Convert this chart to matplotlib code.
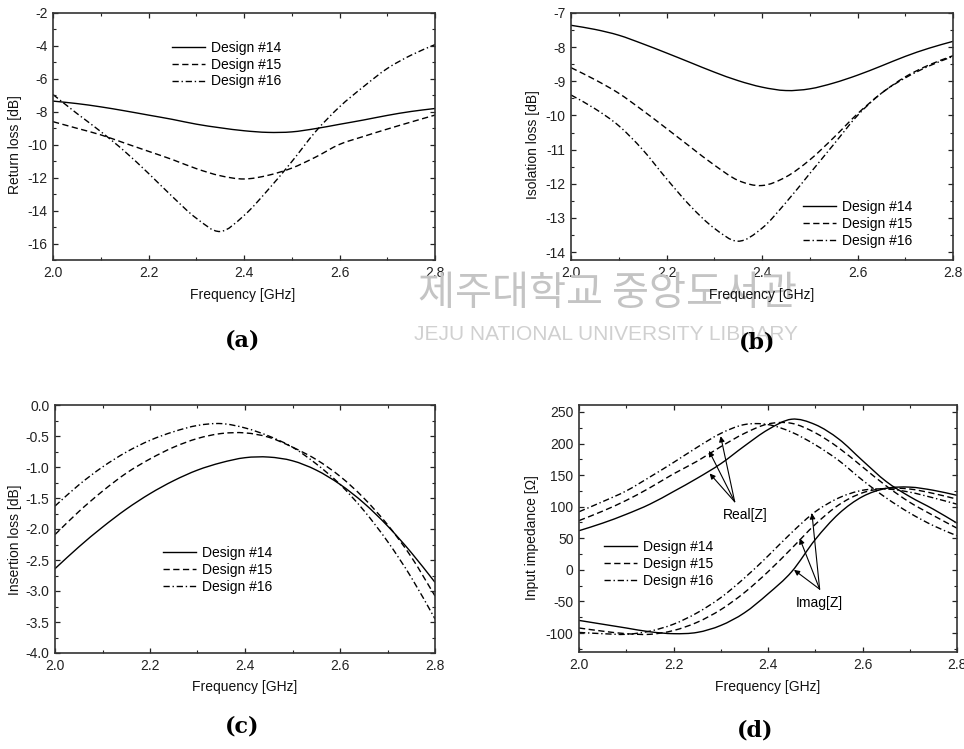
import numpy as np
import matplotlib
matplotlib.use('Agg')
import matplotlib.pyplot as plt
from matplotlib.ticker import MultipleLocator, FormatStrFormatter
from matplotlib.path import Path
from matplotlib.patches import PathPatch
from matplotlib.lines import Line2D

plt.rcParams['font.family'] = ['Liberation Sans', 'DejaVu Sans']
plt.rcParams['axes.unicode_minus'] = False

# 주파수 축 (GHz)
freq = [2.00, 2.05, 2.10, 2.15, 2.20, 2.25, 2.30, 2.35, 2.40,
        2.45, 2.50, 2.55, 2.60, 2.65, 2.70, 2.75, 2.80]
labels = ['Design #14', 'Design #15', 'Design #16']

# (a) Return loss [dB]
ret_14 = [-7.35, -7.50, -7.70, -7.94, -8.20, -8.46, -8.75, -8.97, -9.15,
          -9.25, -9.22, -9.02, -8.76, -8.50, -8.22, -7.98, -7.80]
ret_15 = [-8.60, -9.00, -9.40, -9.90, -10.40, -10.90, -11.45, -11.88, -12.08,
          -11.86, -11.42, -10.75, -9.98, -9.50, -9.05, -8.62, -8.20]
ret_16 = [-6.95, -8.10, -9.20, -10.40, -11.74, -13.15, -14.46, -15.27, -14.30,
          -12.75, -11.03, -9.20, -7.70, -6.48, -5.37, -4.56, -3.92]

# (b) Isolation loss [dB]
iso_14 = [-7.36, -7.48, -7.65, -7.90, -8.17, -8.45, -8.73, -8.98, -9.17,
          -9.27, -9.22, -9.05, -8.82, -8.55, -8.27, -8.03, -7.83]
iso_15 = [-8.60, -8.95, -9.35, -9.85, -10.38, -10.92, -11.45, -11.90, -12.05,
          -11.80, -11.30, -10.65, -9.95, -9.35, -8.87, -8.52, -8.25]
iso_16 = [-9.40, -9.80, -10.30, -11.00, -11.85, -12.65, -13.30, -13.68, -13.30,
          -12.55, -11.70, -10.85, -10.00, -9.35, -8.90, -8.55, -8.27]

# (c) Insertion loss [dB]
ins_14 = [-2.64, -2.29, -1.97, -1.68, -1.43, -1.22, -1.05, -0.93, -0.85,
          -0.84, -0.90, -1.05, -1.28, -1.58, -1.95, -2.38, -2.86]
ins_15 = [-2.09, -1.72, -1.39, -1.10, -0.87, -0.68, -0.54, -0.46, -0.45,
          -0.52, -0.68, -0.88, -1.15, -1.50, -1.93, -2.45, -3.08]
ins_16 = [-1.63, -1.29, -1.00, -0.76, -0.57, -0.43, -0.33, -0.30, -0.37,
          -0.50, -0.68, -0.95, -1.28, -1.70, -2.20, -2.78, -3.45]

# (d) Input impedance [ohm]
re_14 = [62, 74, 88, 104, 124, 145, 168, 196, 222, 238.5, 230, 207, 173, 140, 116, 96, 74]
re_15 = [78, 93, 110, 130, 152, 172, 195, 216, 231, 232, 217, 193, 163, 133, 107, 86, 66]
re_16 = [92, 108, 125, 147, 170, 194, 216, 230, 230, 218, 198, 173, 142, 114, 90, 70, 54]
im_14 = [-80, -86, -92, -98, -101, -99, -88, -68, -38, -3, 48, 89, 116, 129, 131, 126, 118]
im_15 = [-92, -97, -101, -102, -96, -83, -63, -36, -3, 34, 72, 103, 122, 129, 128, 121, 112]
im_16 = [-99, -101, -102, -97, -86, -68, -44, -13, 22, 59, 92, 114, 126, 128, 123, 114, 104]

styles = ['-', (0, (4.5, 2.5)), (0, (4.5, 2, 1, 2))]

W, H = 964, 749
fig = plt.figure(figsize=(W / 100, H / 100), dpi=100)


def px_axes(l, t, r, b):
    return fig.add_axes([l / W, 1 - b / H, (r - l) / W, (b - t) / H])


def curve(ax, x, y, ls):
    # 읽은 점들을 매끄러운 곡선(Bezier)으로 연결
    p = np.column_stack([x, y]).astype(float)
    m = np.zeros_like(p)
    m[1:-1] = (p[2:] - p[:-2]) / 2
    m[0] = p[1] - p[0]
    m[-1] = p[-1] - p[-2]
    verts = [p[0]]
    codes = [Path.MOVETO]
    for i in range(len(p) - 1):
        verts += [p[i] + m[i] / 3, p[i + 1] - m[i + 1] / 3, p[i + 1]]
        codes += [Path.CURVE4] * 3
    ax.add_patch(PathPatch(Path(verts, codes), fill=False, edgecolor='black',
                           lw=1.0, linestyle=ls, capstyle='butt'))


def style_axes(ax, ylim, ymaj, ymin):
    ax.set_xlim(2.0, 2.8)
    ax.set_ylim(*ylim)
    ax.xaxis.set_major_locator(MultipleLocator(0.2))
    ax.xaxis.set_minor_locator(MultipleLocator(0.1))
    ax.yaxis.set_major_locator(MultipleLocator(ymaj))
    ax.yaxis.set_minor_locator(MultipleLocator(ymin))
    ax.tick_params(which='both', direction='in', top=True, right=True,
                   labelsize=10, colors='#222222')
    ax.tick_params(which='major', length=3.5, width=0.9, pad=4)
    ax.tick_params(which='minor', length=2, width=0.8)
    for s in ax.spines.values():
        s.set_linewidth(1.2)
        s.set_color('#333333')


def add_legend(ax, x, y):
    handles = [Line2D([], [], color='black', lw=1.0, linestyle=ls) for ls in styles]
    ax.legend(handles, labels, loc='upper left', bbox_to_anchor=(x, y), frameon=False,
              fontsize=10, borderpad=0, borderaxespad=0, handlelength=2.4,
              handletextpad=0.4, labelspacing=0.2)


def label_px(text, x, y, rot=0):
    fig.text(x / W, 1 - y / H, text, rotation=rot, ha='center', va='center',
             fontsize=10, color='#111111')


def caption(text, x, y):
    fig.text(x / W, 1 - y / H, text, ha='center', va='center', fontsize=16,
             fontweight='bold', family='DejaVu Serif')


# 워터마크
fig.text(608 / W, 1 - 293 / H, '제주대학교 중앙도서관', ha='center', va='center',
         fontsize=29, color='#c4c4c4', family=['Noto Sans CJK KR', 'DejaVu Sans'], zorder=0)
fig.text(606 / W, 1 - 334 / H, 'JEJU NATIONAL UNIVERSITY LIBRARY', ha='center', va='center',
         fontsize=15, color='#d0d0d0', zorder=0)

# (a)
ax = px_axes(53, 13, 435, 260)
for ys, ls in zip([ret_14, ret_15, ret_16], styles):
    curve(ax, freq, ys, ls)
style_axes(ax, (-17, -2), 2, 1)
add_legend(ax, 0.311, 0.887)
label_px('Return loss [dB]', 15, 145, 90)
label_px('Frequency [GHz]', 243, 295)
caption('(a)', 243, 340)

# (b)
ax = px_axes(571, 13, 953, 260)
for ys, ls in zip([iso_14, iso_15, iso_16], styles):
    curve(ax, freq, ys, ls)
style_axes(ax, (-14.23, -7), 1, 0.5)
add_legend(ax, 0.607, 0.243)
label_px('Isolation loss [dB]', 533, 145, 90)
label_px('Frequency [GHz]', 762, 295)
caption('(b)', 757, 343)

# (c)
ax = px_axes(55, 405, 435, 653)
for ys, ls in zip([ins_14, ins_15, ins_16], styles):
    curve(ax, freq, ys, ls)
style_axes(ax, (-4.0, 0.0), 0.5, 0.25)
ax.yaxis.set_major_formatter(FormatStrFormatter('%.1f'))
add_legend(ax, 0.284, 0.431)
label_px('Insertion loss [dB]', 15, 540, 90)
label_px('Frequency [GHz]', 245, 687)
caption('(c)', 242, 727)

# (d)
ax = px_axes(579, 405, 957, 652)
for ys, ls in zip([re_14, re_15, re_16], styles):
    curve(ax, freq, ys, ls)
for ys, ls in zip([im_14, im_15, im_16], styles):
    curve(ax, freq, ys, ls)
style_axes(ax, (-130, 261), 50, 25)
add_legend(ax, 0.066, 0.453)

arrow = dict(arrowstyle='-|>', color='black', lw=0.8, mutation_scale=8,
             shrinkA=0, shrinkB=0)
for tip in [(2.2765, 152.6), (2.2751, 188.4), (2.2998, 211.6)]:
    ax.annotate('', xy=tip, xytext=(2.3295, 107.9), arrowprops=arrow)
for tip in [(2.455, 0.0), (2.467, 50.0), (2.493, 89.5)]:
    ax.annotate('', xy=tip, xytext=(2.5093, -30.5), arrowprops=arrow)
ax.text(2.351, 86.8, 'Real[Z]', ha='center', va='center', fontsize=10)
ax.text(2.508, -52.6, 'Imag[Z]', ha='center', va='center', fontsize=10)

label_px('Input impedance [Ω]', 532, 538, 90)
label_px('Frequency [GHz]', 768, 687)
caption('(d)', 755, 731)

plt.savefig('out.png', dpi=100)
